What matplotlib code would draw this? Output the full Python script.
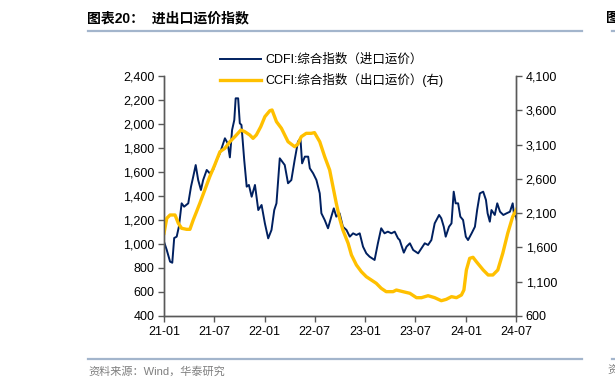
import pandas as pd
import matplotlib
matplotlib.use('Agg')
import matplotlib.pyplot as plt
import matplotlib.dates as mdates
from matplotlib.lines import Line2D
from matplotlib.ticker import MultipleLocator, FuncFormatter

plt.rcParams['font.family'] = ['Liberation Sans', 'Noto Sans CJK SC']

# CDFI composite index (import freight), left axis
cdfi_dates = ['2021-01-01', '2021-01-11', '2021-01-23', '2021-01-31', '2021-02-07', '2021-02-16', '2021-02-24',
              '2021-03-06', '2021-03-15', '2021-03-30', '2021-04-09', '2021-04-17', '2021-04-26', '2021-05-05',
              '2021-05-15', '2021-05-23', '2021-06-05', '2021-06-16', '2021-06-28', '2021-07-11', '2021-07-23',
              '2021-08-10', '2021-08-20', '2021-08-28', '2021-09-05', '2021-09-13', '2021-09-18', '2021-09-27',
              '2021-10-03', '2021-10-09', '2021-10-19', '2021-10-28', '2021-11-05', '2021-11-15', '2021-11-27',
              '2021-12-09', '2021-12-21', '2022-01-02', '2022-01-14', '2022-01-26', '2022-02-05', '2022-02-13',
              '2022-02-25', '2022-03-15', '2022-03-27', '2022-04-08', '2022-04-20', '2022-05-02', '2022-05-11',
              '2022-05-17', '2022-05-27', '2022-06-08', '2022-06-14', '2022-06-26', '2022-07-08', '2022-07-20',
              '2022-07-26', '2022-08-07', '2022-08-19', '2022-08-31', '2022-09-09', '2022-09-18', '2022-09-30',
              '2022-10-12', '2022-10-25', '2022-11-06', '2022-11-18', '2022-11-30', '2022-12-12', '2022-12-24',
              '2023-01-05', '2023-01-17', '2023-02-04', '2023-02-16', '2023-02-28', '2023-03-12', '2023-03-24',
              '2023-04-06', '2023-04-18', '2023-04-30', '2023-05-06', '2023-05-21', '2023-05-31', '2023-06-12',
              '2023-06-24', '2023-07-12', '2023-07-24', '2023-08-05', '2023-08-17', '2023-08-29', '2023-09-10',
              '2023-09-26', '2023-10-04', '2023-10-13', '2023-10-20', '2023-11-01', '2023-11-10', '2023-11-18',
              '2023-11-25', '2023-12-04', '2023-12-12', '2023-12-22', '2024-01-01', '2024-01-09', '2024-01-22',
              '2024-02-03', '2024-02-11', '2024-02-21', '2024-03-04', '2024-03-14', '2024-03-20', '2024-03-28',
              '2024-04-03', '2024-04-15', '2024-04-24', '2024-05-04', '2024-05-16', '2024-05-28', '2024-06-09',
              '2024-06-19', '2024-06-24', '2024-07-01', '2024-07-05']
cdfi_values = [1019, 950, 853, 844, 1050, 1061, 1144, 1339, 1311, 1339,
               1478, 1561, 1658, 1533, 1450, 1533, 1617, 1589, 1617, 1700,
               1756, 1881, 1839, 1722, 1950, 2033, 2214, 2214, 2006, 1992,
               1700, 1478, 1492, 1394, 1492, 1283, 1325, 1172, 1047, 1117,
               1283, 1339, 1714, 1658, 1506, 1533, 1700, 1853, 1881, 1672,
               1728, 1728, 1631, 1589, 1533, 1422, 1256, 1200, 1131, 1228,
               1297, 1228, 1256, 1144, 1117, 1061, 1089, 1075, 1089, 978,
               922, 894, 867, 1006, 1131, 1089, 1103, 1089, 1103, 1047,
               1033, 928, 978, 1006, 950, 922, 964, 1006, 992, 1033,
               1172, 1242, 1214, 1144, 1061, 1144, 1172, 1436, 1339, 1339,
               1228, 1200, 1061, 1033, 1089, 1144, 1283, 1422, 1436, 1367,
               1256, 1186, 1283, 1242, 1339, 1269, 1242, 1256, 1269, 1339,
               1242, 1228, 1186]

# CCFI composite index (export freight), right axis
ccfi_dates = ['2021-01-01', '2021-01-11', '2021-01-23', '2021-02-10', '2021-02-22', '2021-03-06', '2021-03-24',
              '2021-04-05', '2021-04-17', '2021-04-29', '2021-05-11', '2021-05-29', '2021-06-16', '2021-07-04',
              '2021-07-23', '2021-08-10', '2021-08-28', '2021-09-15', '2021-10-07', '2021-10-21', '2021-11-08',
              '2021-11-20', '2021-12-02', '2021-12-18', '2022-01-02', '2022-01-20', '2022-01-28', '2022-02-13',
              '2022-03-03', '2022-03-27', '2022-04-20', '2022-05-02', '2022-05-14', '2022-06-01', '2022-06-19',
              '2022-07-01', '2022-07-20', '2022-08-07', '2022-08-25', '2022-09-06', '2022-09-18', '2022-09-30',
              '2022-10-12', '2022-10-31', '2022-11-12', '2022-11-30', '2022-12-18', '2023-01-05', '2023-01-23',
              '2023-02-10', '2023-02-28', '2023-03-18', '2023-04-12', '2023-04-24', '2023-05-18', '2023-06-12',
              '2023-07-06', '2023-07-24', '2023-08-17', '2023-09-10', '2023-10-04', '2023-10-22', '2023-11-10',
              '2023-11-28', '2023-12-16', '2023-12-25', '2024-01-03', '2024-01-15', '2024-01-27', '2024-02-08',
              '2024-03-04', '2024-03-22', '2024-04-08', '2024-04-26', '2024-05-14', '2024-06-01', '2024-06-19',
              '2024-07-05']
ccfi_values = [1806, 2025, 2073, 2073, 1952, 1879, 1864, 1864, 2000, 2121,
               2244, 2438, 2632, 2802, 2996, 3046, 3142, 3215, 3312, 3288,
               3240, 3191, 3240, 3361, 3507, 3594, 3604, 3434, 3337, 3142,
               3069, 3108, 3215, 3264, 3264, 3274, 3142, 2923, 2729, 2486,
               2244, 2025, 1854, 1660, 1490, 1344, 1246, 1173, 1125, 1077,
               1004, 955, 955, 979, 955, 931, 867, 867, 896, 867,
               823, 843, 882, 867, 906, 979, 1271, 1441, 1456, 1393,
               1271, 1198, 1198, 1271, 1514, 1806, 2049, 2171]

x_ticks = ['2021-01-01', '2021-07-01', '2022-01-01', '2022-07-01',
           '2023-01-01', '2023-07-01', '2024-01-01', '2024-07-01']
right_ticks = [600, 1100, 1600, 2100, 2600, 3100, 3600, 4100]

navy = '#002060'
gold = '#FFC000'
axis_grey = '#595959'
rule_blue = '#A3B5CC'

W, H = 615, 389
fig = plt.figure(figsize=(W / 100, H / 100), dpi=100)

ax = fig.add_axes([164 / W, 1 - 316 / H, 352 / W, 240 / H])
ax2 = ax.twinx()

l1, = ax.plot(pd.to_datetime(cdfi_dates), cdfi_values, color=navy, lw=1.4)
l2, = ax2.plot(pd.to_datetime(ccfi_dates), ccfi_values, color=gold, lw=2.4)

ax.set_xlim(pd.Timestamp('2021-01-01'), pd.Timestamp('2024-07-01'))
ax.set_ylim(400, 2400)
ax2.set_ylim(600, 4100)
ax.yaxis.set_major_locator(MultipleLocator(200))
ax2.set_yticks(right_ticks)
fmt = FuncFormatter(lambda v, p: f'{v:,.0f}')
ax.yaxis.set_major_formatter(fmt)
ax2.yaxis.set_major_formatter(fmt)
ax.set_xticks(pd.to_datetime(x_ticks))
ax.xaxis.set_major_formatter(mdates.DateFormatter('%y-%m'))

for a in (ax, ax2):
    a.spines['top'].set_visible(False)
    for s in ('left', 'right', 'bottom'):
        a.spines[s].set_color(axis_grey)
        a.spines[s].set_linewidth(1.0)
    a.tick_params(direction='out', length=4, width=1, color=axis_grey,
                  labelsize=9, labelcolor='black', pad=3)

ax.legend([l1, l2], ['CDFI:综合指数（进口运价）', 'CCFI:综合指数（出口运价）(右)'],
          loc='upper left', bbox_to_anchor=(220 / W, 1 - 54 / H), bbox_transform=fig.transFigure,
          frameon=False, fontsize=9, borderpad=0, borderaxespad=0,
          handlelength=3.3, handletextpad=0.3, labelspacing=0.55)

# header and footer
fig.text(87 / W, 1 - 18 / H, '图表20：  进出口运价指数', fontsize=10, fontweight='bold',
         va='center', ha='left', color='black')
fig.text(606 / W, 1 - 18 / H, '图', fontsize=10, fontweight='bold',
         va='center', ha='left', color='black')
fig.add_artist(Line2D([88 / W, 582 / W], [1 - 31 / H] * 2, color=rule_blue, lw=1.6))
fig.add_artist(Line2D([612 / W, 1.0], [1 - 31 / H] * 2, color=rule_blue, lw=1.6))
fig.add_artist(Line2D([88 / W, 582 / W], [1 - 359 / H] * 2, color=rule_blue, lw=1.6))
fig.add_artist(Line2D([612 / W, 1.0], [1 - 359 / H] * 2, color=rule_blue, lw=1.6))
fig.text(88 / W, 1 - 371 / H, '资料来源：Wind，华泰研究', fontsize=8, color='#7F7F7F',
         va='center', ha='left')
fig.text(607 / W, 1 - 371 / H, '资', fontsize=8, color='#7F7F7F', va='center', ha='left')

fig.savefig('out.png', dpi=100)
